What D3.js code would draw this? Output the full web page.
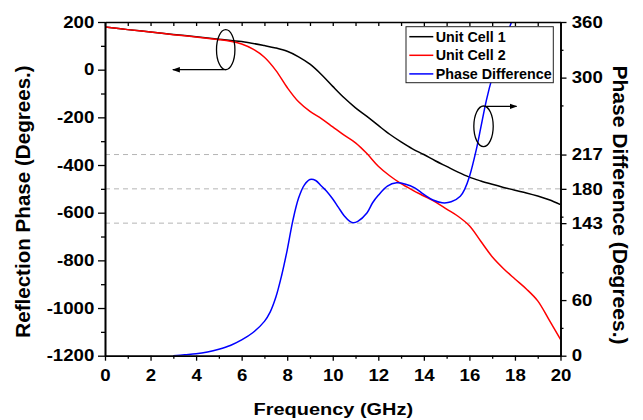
<!DOCTYPE html>
<html>
<head>
<meta charset="utf-8">
<script src="https://cdn.jsdelivr.net/npm/d3@7"></script>
<style>
  body { margin: 0; background: #fff; }
  svg { display: block; font-family: "Liberation Sans", Arial, sans-serif; }
</style>
</head>
<body>
<svg id="chart" width="643" height="420"></svg>
<script>
// frequency (GHz) and reflection phase (deg)
const cell1Freq = [0, 1, 2, 3, 4, 5, 6, 7, 7.5, 8, 8.5, 9, 9.5, 10, 10.5, 11, 11.5, 12, 12.5, 13, 13.5, 14, 14.5, 15, 15.5, 16, 16.5, 17, 17.5, 18, 18.5, 19, 19.5, 20];
const cell1Phase = [179, 168, 158, 148, 138, 128, 118, 101, 91, 77, 54, 23, -20, -70, -118, -160, -196, -234, -271, -303, -332, -356, -382, -406, -430, -451, -467, -481, -494, -506, -517, -530, -546, -566];

const cell2Freq = [0, 1, 2, 3, 4, 5, 5.5, 6, 6.5, 7, 7.5, 8, 8.5, 9, 9.5, 10, 10.5, 11, 11.5, 12, 12.5, 13, 13.5, 14, 14.5, 15, 15.5, 16, 16.5, 17, 17.5, 18, 18.5, 19, 19.5, 20];
const cell2Phase = [179, 168, 158, 147, 137, 126, 119, 108, 86, 52, -3, -75, -135, -175, -205, -240, -275, -307, -352, -405, -445, -478, -505, -530, -555, -585, -615, -655, -720, -785, -835, -878, -920, -970, -1050, -1132];

const diffFreq = [3, 3.5, 4, 4.5, 5, 5.5, 6, 6.5, 7, 7.25, 7.5, 7.75, 8, 8.25, 8.5, 8.75, 9, 9.25, 9.5, 9.75, 10, 10.25, 10.5, 10.75, 10.9, 11.1, 11.5, 11.75, 12, 12.4, 12.8, 13.2, 13.6, 14, 14.4, 14.8, 15.2, 15.6, 15.8, 16, 16.3, 16.5, 16.75, 17, 17.4, 17.85, 18];
const diffPhase = [0, 1, 2, 4, 7, 11, 17, 25, 37, 47, 63, 86, 114, 146, 170, 184, 190, 189, 183, 177, 169, 160, 151, 145, 143.5, 145, 154, 165, 173, 183, 186.5, 185, 181, 174, 168, 165, 166, 172, 180, 193, 222, 246, 276, 300, 330, 360, 370];

const seriesNames = ["Unit Cell 1", "Unit Cell 2", "Phase Difference"];
const seriesColors = ["#000000", "#ff0000", "#0000ff"];

const xTicks = [0, 2, 4, 6, 8, 10, 12, 14, 16, 18, 20];
const leftTicks = [-1200, -1000, -800, -600, -400, -200, 0, 200];
const rightTicks = [0, 60, 143, 180, 217, 300, 360];
const rightMinor = [30, 90, 120, 150, 270, 330];
const refLevels = [217, 180, 143];

const width = 643, height = 420;
const margin = { top: 22, right: 82.5, bottom: 64.3, left: 105 };
const w = width - margin.left - margin.right;
const h = height - margin.top - margin.bottom;

const svg = d3.select("#chart");
const g = svg.append("g").attr("transform", `translate(${margin.left},${margin.top})`);

const x = d3.scaleLinear().domain([0, 20]).range([0, w]);
const yL = d3.scaleLinear().domain([-1200, 200]).range([h, 0]);
const yR = d3.scaleLinear().domain([0, 360]).range([h, 0]);

const defs = svg.append("defs");
defs.append("clipPath").attr("id", "plot")
  .append("rect").attr("width", w).attr("height", h);

// dashed reference lines
g.selectAll(".ref").data(refLevels).enter().append("line")
  .attr("x1", 0).attr("x2", w)
  .attr("y1", d => yR(d)).attr("y2", d => yR(d))
  .attr("stroke", "#b4b4b4").attr("stroke-width", 1).attr("stroke-dasharray", "5,4");

const lineL = d3.line().x(d => x(d[0])).y(d => yL(d[1])).curve(d3.curveCatmullRom.alpha(0.5));
const lineR = d3.line().x(d => x(d[0])).y(d => yR(d[1])).curve(d3.curveCatmullRom.alpha(0.5));

const curves = g.append("g").attr("clip-path", "url(#plot)");
curves.append("path").datum(d3.zip(cell1Freq, cell1Phase))
  .attr("d", lineL).attr("fill", "none").attr("stroke", seriesColors[0]).attr("stroke-width", 1.5);
curves.append("path").datum(d3.zip(cell2Freq, cell2Phase))
  .attr("d", lineL).attr("fill", "none").attr("stroke", seriesColors[1]).attr("stroke-width", 1.5);
curves.append("path").datum(d3.zip(diffFreq, diffPhase))
  .attr("d", lineR).attr("fill", "none").attr("stroke", seriesColors[2]).attr("stroke-width", 1.5);

// axes
function styleAxis(sel) {
  sel.select(".domain").attr("stroke", "#000").attr("stroke-width", 1.6);
  sel.selectAll(".tick line").attr("stroke", "#000").attr("stroke-width", 1.3);
  sel.selectAll("text").attr("fill", "#000").style("font-size", "16.5px").style("font-weight", "bold");
}
const plain = d => String(d);

const bottomAxis = g.append("g").attr("transform", `translate(0,${h})`)
  .call(d3.axisBottom(x).tickValues(xTicks).tickSize(5).tickSizeOuter(0).tickFormat(plain));
styleAxis(bottomAxis);
bottomAxis.selectAll("text").attr("y", 25).attr("dy", 0).attr("transform", "scale(1.13,1)");
const bottomMinor = g.append("g").attr("transform", `translate(0,${h})`)
  .call(d3.axisBottom(x).tickValues(d3.range(1, 20, 2)).tickSize(3).tickSizeOuter(0).tickFormat(""));
styleAxis(bottomMinor);

const topAxis = g.append("g")
  .call(d3.axisTop(x).tickValues(d3.range(0, 21, 1)).tickSize(-4).tickSizeOuter(0).tickFormat(""));
styleAxis(topAxis);

const leftAxis = g.append("g")
  .call(d3.axisLeft(yL).tickValues(leftTicks).tickSize(7).tickSizeOuter(0).tickFormat(plain));
styleAxis(leftAxis);
leftAxis.selectAll("text").attr("x", -10.7 / 1.13).attr("transform", "scale(1.13,1)");
const leftMinor = g.append("g")
  .call(d3.axisLeft(yL).tickValues(d3.range(-1100, 200, 200)).tickSize(4).tickSizeOuter(0).tickFormat(""));
styleAxis(leftMinor);

const rightAxis = g.append("g").attr("transform", `translate(${w},0)`)
  .call(d3.axisRight(yR).tickValues(rightTicks).tickSize(6).tickSizeOuter(0).tickFormat(plain));
styleAxis(rightAxis);
rightAxis.selectAll("text").attr("x", 11.2 / 1.13).attr("transform", "scale(1.13,1)");
const rightMinorAxis = g.append("g").attr("transform", `translate(${w},0)`)
  .call(d3.axisRight(yR).tickValues(rightMinor).tickSize(3).tickSizeOuter(0).tickFormat(""));
styleAxis(rightMinorAxis);

// axis titles
svg.append("text")
  .attr("transform", "translate(333.3,415) scale(1.16,1)")
  .attr("text-anchor", "middle")
  .style("font-size", "17.2px").style("font-weight", "bold")
  .text("Frequency (GHz)");

svg.append("text")
  .attr("transform", "translate(29.5,201.5) rotate(-90)")
  .attr("text-anchor", "middle")
  .style("font-size", "20.6px").style("font-weight", "bold")
  .text("Reflection Phase (Degrees.)");

svg.append("text")
  .attr("transform", "translate(612.7,205) rotate(90)")
  .attr("text-anchor", "middle")
  .style("font-size", "21px").style("font-weight", "bold")
  .text("Phase Difference (Degrees.)");

// legend
const legend = svg.append("g").attr("transform", "translate(406,26.7)");
legend.append("rect").attr("width", 147.3).attr("height", 56)
  .attr("fill", "#fff").attr("stroke", "#222").attr("stroke-width", 1);
seriesNames.forEach((name, i) => {
  const yy = 10 + i * 18.6;
  legend.append("line").attr("x1", 3.3).attr("x2", 27.3).attr("y1", yy).attr("y2", yy)
    .attr("stroke", seriesColors[i]).attr("stroke-width", 1.5);
  legend.append("text").attr("x", 29.7).attr("y", yy + 5)
    .style("font-size", "14.3px").style("font-weight", "bold").text(name);
});

// annotations: ellipses with arrows pointing to the axis each curve uses
defs.append("marker")
  .attr("id", "head").attr("viewBox", "0 0 10 10").attr("refX", 9).attr("refY", 5)
  .attr("markerWidth", 6).attr("markerHeight", 6).attr("orient", "auto")
  .append("path").attr("d", "M0,1.5 L10,5 L0,8.5 Z").attr("fill", "#000");

const ann = g.append("g").attr("fill", "none").attr("stroke", "#000").attr("stroke-width", 1.3);
ann.append("ellipse").attr("cx", x(5.3)).attr("cy", yL(84)).attr("rx", 9.2).attr("ry", 20);
ann.append("line").attr("x1", x(5.33)).attr("x2", x(2.98)).attr("y1", yL(0)).attr("y2", yL(0))
  .attr("marker-end", "url(#head)");
ann.append("ellipse").attr("cx", x(16.62)).attr("cy", yR(247.5)).attr("rx", 9.7).attr("ry", 20.3);
ann.append("line").attr("x1", x(16.68)).attr("x2", x(18.07)).attr("y1", yR(269)).attr("y2", yR(269))
  .attr("marker-end", "url(#head)");
</script>
</body>
</html>
